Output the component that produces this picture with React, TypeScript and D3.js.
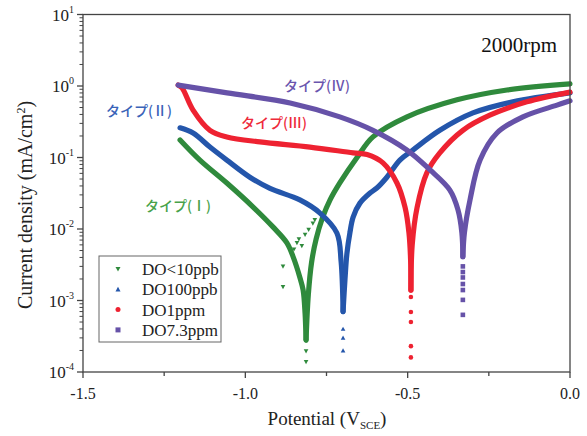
import React from 'react';
import * as d3 from 'd3';

// series: cathodic branch (left), anodic branch (right), loose points near Ecorr
const seriesNames = ['DO<10ppb', 'DO100ppb', 'DO1ppm', 'DO7.3ppm'];
const seriesColors = ['#2f8a3c', '#2456ab', '#ee2231', '#6652a8'];
const typeLabels = ['タイプ(Ⅰ)', 'タイプ(Ⅱ)', 'タイプ(Ⅲ)', 'タイプ(Ⅳ)'];
const typeColors = ['#48a24a', '#3a63b8', '#ee2a3a', '#6a55ae'];

const greenCathE = [-1.201, -1.14, -1.057, -0.976, -0.915, -0.872, -0.853, -0.832, -0.822, -0.816, -0.813];
const greenCathI = [0.176, 0.092, 0.044, 0.0203, 0.0107, 0.0064, 0.0041, 0.0021, 0.0014, 0.00066, 0.00028];
const greenAnodE = [-0.813, -0.806, -0.796, -0.782, -0.762, -0.739, -0.709, -0.656, -0.607, -0.502, -0.348, -0.194, 0.0];
const greenAnodI = [0.00028, 0.0012, 0.0034, 0.0072, 0.0145, 0.0255, 0.044, 0.1, 0.194, 0.37, 0.64, 0.88, 1.07];
const greenDotE = [-0.813, -0.813, -0.841, -0.816, -0.792, -0.786, -0.884, -0.884, -0.85, -0.805, -0.86, -0.835, -0.826];
const greenDotI = [0.000195, 0.000138, 0.0064, 0.0083, 0.012, 0.0134, 0.003, 0.00155, 0.0052, 0.0098, 0.0048, 0.0072, 0.0058];

const blueCathE = [-1.201, -1.161, -1.109, -1.057, -0.986, -0.924, -0.832, -0.77, -0.718, -0.705, -0.699];
const blueCathI = [0.26, 0.22, 0.14, 0.092, 0.053, 0.037, 0.0255, 0.0167, 0.0088, 0.0035, 0.0007];
const blueAnodE = [-0.699, -0.693, -0.687, -0.678, -0.668, -0.647, -0.616, -0.595, -0.564, -0.524, -0.484, -0.401, -0.299, -0.176, 0.0];
const blueAnodI = [0.0007, 0.002, 0.0046, 0.0088, 0.0147, 0.023, 0.0318, 0.0374, 0.053, 0.092, 0.127, 0.24, 0.42, 0.6, 0.8];
const blueDotE = [-0.699, -0.699, -0.699, -0.678, -0.672];
const blueDotI = [0.0004, 0.0003, 0.0002, 0.0098, 0.0134];

const redCathE = [-1.207, -1.195, -1.161, -1.109, -1.057, -0.955, -0.801, -0.668, -0.625, -0.576, -0.533, -0.508, -0.496, -0.491, -0.49];
const redCathI = [1.03, 0.94, 0.46, 0.24, 0.194, 0.165, 0.14, 0.116, 0.11, 0.084, 0.044, 0.02, 0.0088, 0.0037, 0.0014];
const redAnodE = [-0.49, -0.486, -0.471, -0.441, -0.401, -0.33, -0.247, -0.133, 0.0];
const redAnodI = [0.0014, 0.006, 0.02, 0.061, 0.116, 0.24, 0.39, 0.6, 0.82];
const redDotE = [-0.49, -0.49, -0.49, -0.49, -0.49];
const redDotI = [0.00112, 0.00069, 0.0005, 0.00023, 0.00016];

const purpleCathE = [-1.207, -1.056, -0.862, -0.709, -0.607, -0.502, -0.431, -0.37, -0.345, -0.333, -0.33];
const purpleCathI = [1.03, 0.8, 0.58, 0.37, 0.24, 0.127, 0.067, 0.035, 0.0185, 0.0088, 0.0041];
const purpleAnodE = [-0.33, -0.325, -0.308, -0.277, -0.225, -0.145, -0.04, 0.0];
const purpleAnodI = [0.0041, 0.009, 0.0255, 0.092, 0.22, 0.37, 0.54, 0.62];
const purpleDotE = [-0.33, -0.33, -0.33, -0.33, -0.33, -0.33, -0.33];
const purpleDotI = [0.003, 0.0025, 0.0021, 0.0017, 0.0014, 0.00102, 0.00063];

const xTicks = [-1.5, -1.0, -0.5, 0.0];
const xTickLabels = ['-1.5', '-1.0', '-0.5', '0.0'];
const yExponents = [-4, -3, -2, -1, 0, 1];

const series = [
  { cE: greenCathE, cI: greenCathI, aE: greenAnodE, aI: greenAnodI, dE: greenDotE, dI: greenDotI, sym: 'down' },
  { cE: blueCathE, cI: blueCathI, aE: blueAnodE, aI: blueAnodI, dE: blueDotE, dI: blueDotI, sym: 'up' },
  { cE: redCathE, cI: redCathI, aE: redAnodE, aI: redAnodI, dE: redDotE, dI: redDotI, sym: 'circle' },
  { cE: purpleCathE, cI: purpleCathI, aE: purpleAnodE, aI: purpleAnodI, dE: purpleDotE, dI: purpleDotI, sym: 'square' },
];

const W = 587;
const H = 436;
const left = 83, right = 570, top = 14.5, bottom = 372;

function Marker({ sym, x, y, color, s = 4.6 }: any) {
  if (sym === 'down') return <path d={`M${x - s / 2},${y - s / 2.4}L${x + s / 2},${y - s / 2.4}L${x},${y + s / 2}Z`} fill={color} />;
  if (sym === 'up') return <path d={`M${x - s / 2},${y + s / 2.4}L${x + s / 2},${y + s / 2.4}L${x},${y - s / 2}Z`} fill={color} />;
  if (sym === 'circle') return <circle cx={x} cy={y} r={s / 2} fill={color} />;
  return <rect x={x - s / 2} y={y - s / 2} width={s} height={s} fill={color} />;
}

export default function App() {
  const x = d3.scaleLinear().domain([-1.5, 0]).range([left, right]);
  const y = d3.scaleLog().domain([1e-4, 10]).range([bottom, top]);
  const line = d3.line<[number, number]>()
    .x(d => x(d[0]))
    .y(d => y(d[1]))
    .curve(d3.curveCatmullRom.alpha(0.5));

  const minorY: number[] = [];
  yExponents.slice(0, -1).forEach(e => {
    for (let k = 2; k <= 9; k++) minorY.push(k * Math.pow(10, e));
  });
  const minorX = [-1.25, -0.75, -0.25];
  const axisColor = '#444';
  const serif = "'Liberation Serif', 'Times New Roman', serif";
  const sans = "'Noto Sans CJK JP', 'Noto Sans', sans-serif";

  const zip = (a: number[], b: number[]) => a.map((v, i) => [v, b[i]] as [number, number]);

  return (
    <svg width={W} height={H} style={{ position: 'absolute', left: 0, top: 0, background: '#fff' }}>
      {/* curves */}
      {series.map((s, i) => (
        <g key={i}>
          <path d={line(zip(s.cE, s.cI)) || ''} fill="none" stroke={seriesColors[i]} strokeWidth={5.2} strokeLinecap="round" strokeLinejoin="round" />
          <path d={line(zip(s.aE, s.aI)) || ''} fill="none" stroke={seriesColors[i]} strokeWidth={5.2} strokeLinecap="round" strokeLinejoin="round" />
          {s.dE.map((e, j) => (
            <Marker key={j} sym={s.sym} x={x(e)} y={y(s.dI[j])} color={seriesColors[i]} />
          ))}
        </g>
      ))}

      {/* frame */}
      <rect x={left} y={top} width={right - left} height={bottom - top} fill="none" stroke={axisColor} strokeWidth={1.3} />

      {/* x ticks */}
      {xTicks.map((t, i) => (
        <g key={t}>
          <line x1={x(t)} x2={x(t)} y1={bottom} y2={bottom + 6} stroke={axisColor} strokeWidth={1.3} />
          <text x={x(t)} y={bottom + 27} textAnchor="middle" fontFamily={serif} fontSize={16} fill="#222">{xTickLabels[i]}</text>
        </g>
      ))}
      {minorX.map(t => (
        <line key={t} x1={x(t)} x2={x(t)} y1={bottom} y2={bottom + 4} stroke={axisColor} strokeWidth={1.3} />
      ))}

      {/* y ticks */}
      {yExponents.map(e => (
        <g key={e}>
          <line x1={left - 6} x2={left} y1={y(Math.pow(10, e))} y2={y(Math.pow(10, e))} stroke={axisColor} strokeWidth={1.3} />
          <text x={left - 9} y={y(Math.pow(10, e)) + 6} textAnchor="end" fontFamily={serif} fontSize={17} fill="#222">
            10<tspan dy={-8} fontSize={10}>{e}</tspan>
          </text>
        </g>
      ))}
      {minorY.map(v => (
        <line key={v} x1={left - 3.5} x2={left} y1={y(v)} y2={y(v)} stroke={axisColor} strokeWidth={1} />
      ))}

      {/* axis titles */}
      <text x={327} y={425} textAnchor="middle" fontFamily={serif} fontSize={19} fill="#222">
        Potential (V<tspan dy={4} fontSize={11}>SCE</tspan><tspan dy={-4}>)</tspan>
      </text>
      <text transform={`translate(32,205) rotate(-90)`} textAnchor="middle" fontFamily={serif} fontSize={20} fill="#222">
        Current density (mA/cm<tspan dy={-7} fontSize={12}>2</tspan><tspan dy={7}>)</tspan>
      </text>

      <text x={557} y={52} textAnchor="end" fontFamily={serif} fontSize={21} fill="#111">2000rpm</text>

      {/* type labels */}
      <text x={145} y={211} fontFamily={sans} fontSize={14} fontWeight={500} fill={typeColors[0]}>{typeLabels[0]}</text>
      <text x={106} y={116} fontFamily={sans} fontSize={14} fontWeight={500} fill={typeColors[1]}>{typeLabels[1]}</text>
      <text x={241} y={128} fontFamily={sans} fontSize={14} fontWeight={500} fill={typeColors[2]}>{typeLabels[2]}</text>
      <text x={284} y={91} fontFamily={sans} fontSize={14} fontWeight={500} fill={typeColors[3]}>{typeLabels[3]}</text>

      {/* legend */}
      <rect x={99} y={256} width={122} height={86} fill="#fff" stroke="#666" strokeWidth={1} />
      {seriesNames.map((n, i) => (
        <g key={n}>
          <Marker sym={series[i].sym} x={118} y={269 + i * 20.3} color={seriesColors[i]} s={5} />
          <text x={142} y={275 + i * 20.3} fontFamily={serif} fontSize={17} fill="#222">{n}</text>
        </g>
      ))}
    </svg>
  );
}
